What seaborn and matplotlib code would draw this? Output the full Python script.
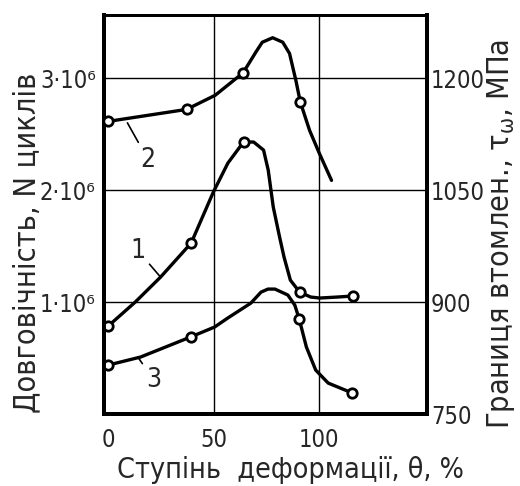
import numpy as np
import pandas as pd
import matplotlib
matplotlib.use("Agg")
import matplotlib.pyplot as plt
import seaborn as sns

# curve 1 - durability N (left axis)
c1_theta = [0, 12.8, 24.8, 39.3, 49.8, 56.7, 64.1, 68.9, 73.6, 75.8, 78.2, 81.2,
            83.3, 86.3, 90.7, 95.9, 100.2, 108.7, 115.8]
c1_n = [0.786, 1.0, 1.223, 1.527, 1.982, 2.241, 2.429, 2.429, 2.357, 2.179, 1.848,
        1.58, 1.402, 1.196, 1.089, 1.045, 1.036, 1.045, 1.054]
c1_mark_theta = [0, 39.3, 64.1, 90.7, 115.8]
c1_mark_n = [0.786, 1.527, 2.429, 1.089, 1.054]

# curve 2 - fatigue limit, MPa (right axis)
c2_theta = [0, 37.1, 50.7, 63.9, 70.0, 73.0, 77.9, 82.7, 85.9, 88.9, 91.0, 95.4,
            99.9, 105.8]
c2_mpa = [1142, 1158, 1177, 1207, 1235, 1248, 1254, 1248, 1233, 1197, 1168, 1130,
          1100, 1063]
c2_mark_theta = [0, 37.1, 63.9, 91.0]
c2_mark_mpa = [1142, 1158, 1207, 1168]

# curve 3 - durability N (left axis)
c3_theta = [0, 15.3, 39.0, 50.4, 56.6, 67.6, 72.4, 75.7, 79.0, 85.1, 88.4, 90.5,
            93.9, 98.3, 104.2, 115.7]
c3_n = [0.4375, 0.509, 0.688, 0.777, 0.857, 0.991, 1.089, 1.116, 1.116, 1.063,
        0.973, 0.848, 0.598, 0.393, 0.277, 0.1875]
c3_mark_theta = [0, 39.0, 90.5, 115.7]
c3_mark_n = [0.4375, 0.688, 0.848, 0.1875]

x_ticks = [0, 50, 100]
left_ticks = [1e6, 2e6, 3e6]
left_labels = ["1·10⁶", "2·10⁶", "3·10⁶"]
right_ticks = [750, 900, 1050, 1200]

# the original uses a narrow drafting font -> condensed DejaVu
sns.set_style("white")
plt.rcParams["font.family"] = ["DejaVu Sans"]
plt.rcParams["font.stretch"] = "condensed"
plt.rcParams["mathtext.fontset"] = "custom"
plt.rcParams["mathtext.rm"] = "DejaVu Sans:stretch=condensed"
plt.rcParams["mathtext.it"] = "DejaVu Sans:stretch=condensed"

fig = plt.figure(figsize=(5.2, 4.86), dpi=100)
ax = fig.add_axes([0.2, 0.148, 0.621, 0.821])
ax2 = ax.twinx()

df1 = pd.DataFrame({"theta": c1_theta, "n": np.array(c1_n) * 1e6})
df3 = pd.DataFrame({"theta": c3_theta, "n": np.array(c3_n) * 1e6})
df2 = pd.DataFrame({"theta": c2_theta, "mpa": c2_mpa})

line_kw = dict(color="black", lw=2.4, sort=False, estimator=None,
               solid_joinstyle="round", solid_capstyle="round")
sns.lineplot(data=df1, x="theta", y="n", ax=ax, **line_kw)
sns.lineplot(data=df3, x="theta", y="n", ax=ax, **line_kw)
sns.lineplot(data=df2, x="theta", y="mpa", ax=ax2, **line_kw)

mark_kw = dict(s=46, facecolor="white", edgecolor="black", linewidth=2.0, zorder=5)
sns.scatterplot(x=c1_mark_theta, y=np.array(c1_mark_n) * 1e6, ax=ax, **mark_kw)
sns.scatterplot(x=c3_mark_theta, y=np.array(c3_mark_n) * 1e6, ax=ax, **mark_kw)
sns.scatterplot(x=c2_mark_theta, y=c2_mark_mpa, ax=ax2, **mark_kw)

ymax = 3.5625e6
ax.set_xlim(-2, 151)
ax.set_ylim(0, ymax)
ax2.set_ylim(750, 750 + 150 * ymax / 1e6)

# grid lines (no line at zero, the axis is there)
for t in x_ticks[1:]:
    ax.axvline(t, color="black", lw=1.0, zorder=1)
for t in left_ticks:
    ax.axhline(t, color="black", lw=1.0, zorder=1)

ax.set_xticks(x_ticks)
ax.set_yticks(left_ticks)
ax.set_yticklabels(left_labels)
ax2.set_yticks(right_ticks)
ax.tick_params(axis="x", length=0, pad=10, labelsize=17)
ax.tick_params(axis="y", length=0, pad=6, labelsize=17)
ax2.tick_params(axis="y", length=0, pad=3, labelsize=17)
ax.set_xlabel("")
ax.set_ylabel("")
ax2.set_ylabel("")

for a in (ax, ax2):
    for side, sp in a.spines.items():
        sp.set_color("black")
        sp.set_linewidth(2.0 if side == "top" else 2.8)

# curve numbers with leader lines
ann_kw = dict(fontsize=19, ha="center", va="center",
              arrowprops=dict(arrowstyle="-", color="black", lw=1.2, shrinkA=1, shrinkB=0))
ax.annotate("1", xy=(24.8, 1.223e6), xytext=(14.0, 1.46e6), **ann_kw)
ax.annotate("2", xy=(9.1, 2.60e6), xytext=(18.9, 2.27e6), **ann_kw)
ax.annotate("3", xy=(14.0, 0.51e6), xytext=(21.7, 0.30e6), **ann_kw)

fig.text(290 / 520, 1 - 470 / 486, "Ступінь  деформації, θ, %",
         ha="center", va="center", fontsize=20.5)
fig.text(27 / 520, 1 - 243 / 486, "Довговічність, N циклів",
         ha="center", va="center", rotation=90, fontsize=22)
fig.text(501 / 520, 1 - 234 / 486, "Границя втомлен., $τ_ω$, МПа",
         ha="center", va="center", rotation=90, fontsize=22)

fig.savefig("out.png", dpi=100)
